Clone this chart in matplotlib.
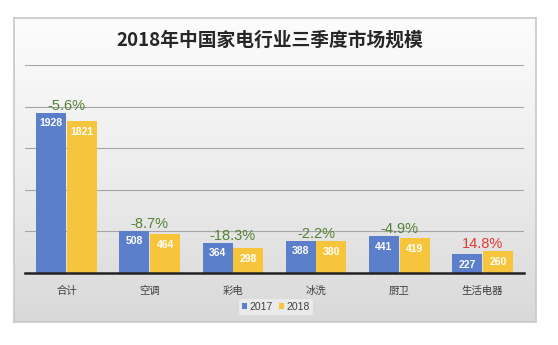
import matplotlib.pyplot as plt
import numpy as np

plt.rcParams['font.family'] = ['Noto Sans CJK SC', 'DejaVu Sans']

categories = ["合计", "空调", "彩电", "冰洗", "厨卫", "生活电器"]
values_2017 = [1928, 508, 364, 388, 441, 227]
values_2018 = [1821, 464, 298, 380, 419, 260]
growth = ["-5.6%", "-8.7%", "-18.3%", "-2.2%", "-4.9%", "14.8%"]

blue = "#5b7fcb"
yellow = "#f7c53c"
green = "#548235"
red = "#e53935"

fig = plt.figure(figsize=(5.58, 3.45), dpi=100)
W, H = 558, 345

# gradient card background
bg = fig.add_axes([14 / W, 1 - 322 / H, (536 - 14) / W, (322 - 18) / H])
grad = np.linspace(0, 1, 256).reshape(-1, 1)
bg.imshow(grad, aspect="auto", cmap=plt.matplotlib.colors.LinearSegmentedColormap.from_list(
    "g", ["#fcfcfc", "#ededed", "#d9d9d9"]), extent=[0, 1, 0, 1], origin="upper")
bg.set_xticks([])
bg.set_yticks([])
for s in bg.spines.values():
    s.set_color("#c8c8c8")
    s.set_linewidth(1.2)

ax = fig.add_axes([25 / W, 1 - 273 / H, (524 - 25) / W, (273 - 65) / H])
ax.patch.set_alpha(0)

x = np.arange(len(categories))
w = 0.36
b1 = ax.bar(x - w / 2 - 0.005, values_2017, w, color=blue, label="2017", zorder=3)
b2 = ax.bar(x + w / 2 + 0.005, values_2018, w, color=yellow, label="2018", zorder=3)

for bars in (b1, b2):
    for r in bars:
        ax.annotate(str(int(r.get_height())), (r.get_x() + r.get_width() / 2, r.get_height()),
                    xytext=(0, -4), textcoords="offset points", ha="center", va="top",
                    color="white", fontsize=7.5, fontweight="bold",
                    family="Liberation Sans", zorder=4)

for i, g in enumerate(growth):
    top = max(values_2017[i], values_2018[i])
    ax.annotate(g, (x[i], top), xytext=(0, 0), textcoords="offset points",
                ha="center", va="bottom", fontsize=10.5, family="Liberation Sans",
                color=red if not g.startswith("-") else green, zorder=4)

ax.set_xlim(-0.5, 5.5)
ax.set_ylim(0, 2500)
ax.set_yticks([500, 1000, 1500, 2000, 2500])
ax.yaxis.grid(True, color="#a6a6a6", linewidth=0.8, zorder=0)
ax.tick_params(axis="y", left=False, labelleft=False)
ax.tick_params(axis="x", bottom=False, labelsize=7.5, colors="#404040", pad=6)
ax.set_xticks(x)
ax.set_xticklabels(categories)
for s in ["top", "left", "right"]:
    ax.spines[s].set_visible(False)
ax.spines["bottom"].set_color("#222222")
ax.spines["bottom"].set_linewidth(1.8)
ax.spines["bottom"].set_zorder(5)

fig.text(270 / W, 1 - 40 / H, "2018年中国家电行业三季度市场规模", ha="center", va="center",
         fontsize=13.5, fontweight="bold", color="#262626")

leg = ax.legend(loc="center", bbox_to_anchor=(276 / W, 1 - 307 / H), bbox_transform=fig.transFigure,
                ncol=2, frameon=True, fontsize=7.5, handlelength=0.5, handleheight=0.5,
                handletextpad=0.2, columnspacing=0.6, borderpad=0.3)
leg.get_frame().set_facecolor("#efefef")
leg.get_frame().set_edgecolor("none")
for t in leg.get_texts():
    t.set_color("#404040")
    t.set_family("Liberation Sans")

fig.savefig("out.png", dpi=100)
